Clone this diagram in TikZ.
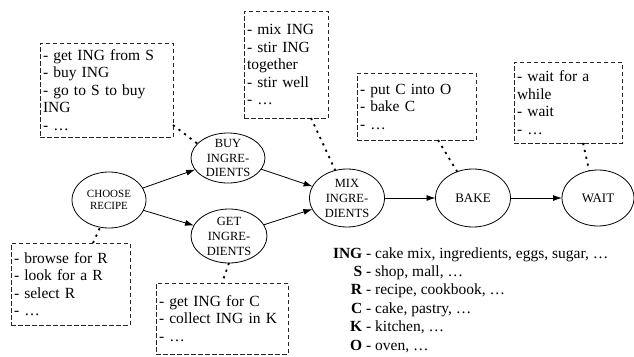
\documentclass[tikz,border=0pt]{standalone}
\usepackage{fontspec}
\setmainfont{Liberation Serif}
\usetikzlibrary{shapes.geometric,arrows.meta,calc}
\begin{document}
\begin{tikzpicture}[x=1pt,y=-1pt,
  every node/.style={inner sep=0pt, outer sep=0pt},
  state/.style={draw, ellipse, line width=0.8pt, align=center, inner sep=-4pt},
  notebox/.style 2 args={draw=black!85, dash pattern=on 4.5pt off 2.5pt, line width=0.8pt,
    anchor=north west, align=left, inner xsep=3pt, inner ysep=0pt,
    text width=#1-6pt, minimum height=#2,
    font=\fontsize{15.5}{17.5}\selectfont},
  flow/.style={-{Latex[length=9pt,width=6pt]}, line width=0.8pt},
  link/.style={line width=1.8pt, dash pattern=on 2.2pt off 4.8pt}]
\useasboundingbox (0,0) rectangle (634,356);

% process ellipses
\node[state, minimum width=74pt, minimum height=56pt, font=\fontsize{11}{12.5}\selectfont] (choose) at (109,200) {CHOOSE\\RECIPE};
\node[state, minimum width=74pt, minimum height=50pt, font=\fontsize{12.5}{14.5}\selectfont] (buy) at (228,158) {BUY\\INGRE-\\DIENTS};
\node[state, minimum width=76pt, minimum height=54pt, font=\fontsize{12.5}{15}\selectfont] (get) at (229,236) {GET\\INGRE-\\DIENTS};
\node[state, minimum width=75pt, minimum height=58pt, font=\fontsize{12.5}{15}\selectfont] (mix) at (347,198) {MIX\\INGRE-\\DIENTS};
\node[state, minimum width=75pt, minimum height=58pt, font=\fontsize{13}{15}\selectfont] (bake) at (473,198) {BAKE};
\node[state, minimum width=72pt, minimum height=56pt, font=\fontsize{13}{15}\selectfont] (wait) at (598,198) {WAIT};

% note boxes
\node[notebox={133pt}{94pt}] (bbuy) at (40,43) {- get ING from S\\- buy ING\\- go to S to buy\\ING\\- …};
\node[notebox={119pt}{82pt}] (bchoose) at (11,243) {- browse for R\\- look for a R\\- select R\\- …};
\node[notebox={84pt}{107pt}] (bmix) at (244,11) {- mix ING\\- stir ING\\together\\- stir well\\- …};
\node[notebox={119pt}{67pt}] (bbake) at (357,73) {- put C into O\\- bake C\\- …};
\node[notebox={108pt}{81pt}] (bwait) at (514,62) {- wait for a\\while\\- wait\\- …};
\node[notebox={132pt}{71pt}] (bget) at (156,283) {- get ING for C\\- collect ING in K\\- …};

% legend
\node[anchor=base west] (legend) at (333,258) {\fontsize{15.5}{18.4}\selectfont
  \begin{tabular}[t]{@{}r@{\ -\ }l@{}}
  \textbf{ING} & cake mix, ingredients, eggs, sugar, … \\
  \textbf{S} & shop, mall, … \\
  \textbf{R} & recipe, cookbook, … \\
  \textbf{C} & cake, pastry, … \\
  \textbf{K} & kitchen, … \\
  \textbf{O} & oven, … \\
  \end{tabular}};

% flow arrows
\draw[flow] (choose) -- (buy);
\draw[flow] (choose) -- (get);
\draw[flow] (buy) -- (mix);
\draw[flow] (get) -- (mix);
\draw[flow] (mix) -- (bake);
\draw[flow] (bake) -- (wait);

% dotted links
\draw[link] ($(bbuy.south east)+(0,-12)$) -- (buy.155);
\draw[link] ($(bchoose.north east)+(-37,0)$) -- (choose.-108);
\draw[link] ($(bmix.south east)+(-17,0)$) -- (mix.113);
\draw[link] ($(bbake.south east)+(-38,0)$) -- (bake.121);
\draw[link] ($(bwait.south east)+(-39,0)$) -- (wait.108);
\draw[link] (get.south) -- (bget.north);
\end{tikzpicture}
\end{document}
